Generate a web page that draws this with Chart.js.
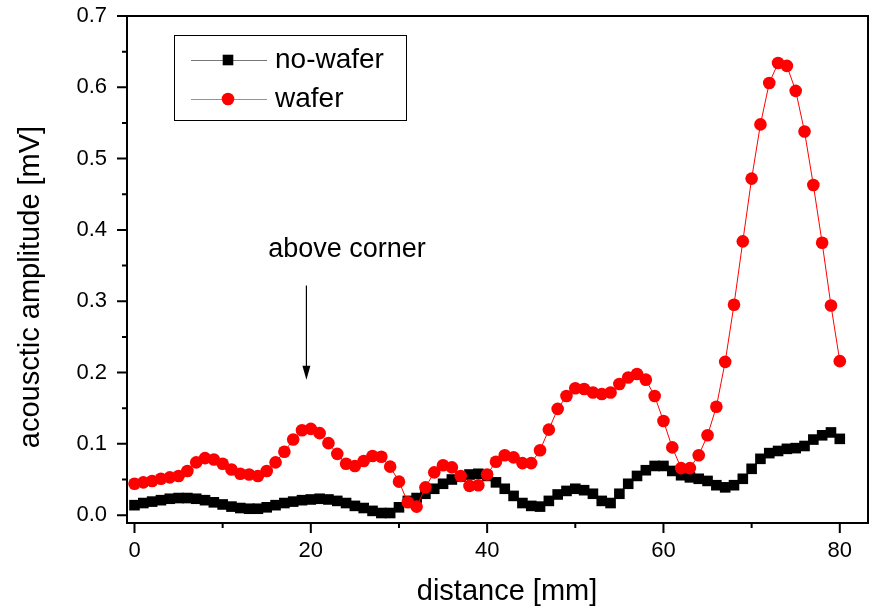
<!DOCTYPE html>
<html>
<head>
<meta charset="utf-8">
<script src="https://cdn.jsdelivr.net/npm/chart.js@4.4.1/dist/chart.umd.min.js"></script>
<style>
  body { margin: 0; background: #fff; }
  #wrap { width: 876px; height: 610px; }
</style>
</head>
<body>
<div id="wrap"><canvas id="chart" width="876" height="610"></canvas></div>
<script>
// distance along the scan, mm
const distance = [
  0, 1, 2, 3, 4, 5, 6, 7, 8, 9, 10, 11, 12, 13, 14, 15, 16, 17, 18, 19,
  20, 21, 22, 23, 24, 25, 26, 27, 28, 29, 30, 31, 32, 33, 34, 35, 36, 37, 38, 39,
  40, 41, 42, 43, 44, 45, 46, 47, 48, 49, 50, 51, 52, 53, 54, 55, 56, 57, 58, 59,
  60, 61, 62, 63, 64, 65, 66, 67, 68, 69, 70, 71, 72, 73, 74, 75, 76, 77, 78, 79, 80
];

// acoustic amplitude, mV
const noWafer = [
  0.014, 0.017, 0.019, 0.021, 0.023, 0.024, 0.024, 0.023, 0.021, 0.018,
  0.015, 0.012, 0.010, 0.009, 0.009, 0.011, 0.014, 0.017, 0.019, 0.021,
  0.022, 0.023, 0.022, 0.020, 0.017, 0.013, 0.010, 0.006, 0.003, 0.003,
  0.011, 0.020, 0.024, 0.030, 0.037, 0.044, 0.050, 0.054, 0.057, 0.058,
  0.055, 0.046, 0.037, 0.027, 0.017, 0.013, 0.012, 0.020, 0.029, 0.034,
  0.037, 0.035, 0.030, 0.020, 0.017, 0.030, 0.044, 0.055, 0.063, 0.069,
  0.069, 0.062, 0.056, 0.053, 0.051, 0.048, 0.042, 0.039, 0.042, 0.051,
  0.065, 0.079, 0.087, 0.090, 0.093, 0.094, 0.097, 0.106, 0.112, 0.116, 0.107
];

const wafer = [
  0.044, 0.046, 0.048, 0.051, 0.053, 0.055, 0.062, 0.074, 0.080, 0.078,
  0.072, 0.064, 0.058, 0.057, 0.055, 0.062, 0.074, 0.089, 0.106, 0.119,
  0.121, 0.115, 0.101, 0.086, 0.072, 0.069, 0.076, 0.083, 0.082, 0.068,
  0.047, 0.018, 0.012, 0.039, 0.060, 0.070, 0.067, 0.055, 0.041, 0.042,
  0.057, 0.075, 0.084, 0.081, 0.073, 0.073, 0.091, 0.120, 0.149, 0.167,
  0.178, 0.177, 0.172, 0.170, 0.172, 0.184, 0.193, 0.198, 0.190, 0.167,
  0.132, 0.095, 0.066, 0.066, 0.084, 0.112, 0.152, 0.215, 0.295, 0.384,
  0.472, 0.548, 0.606, 0.634, 0.630, 0.595, 0.538, 0.463, 0.382, 0.294, 0.216
];

const seriesNames = ["no-wafer", "wafer"];
const xTitle = "distance [mm]";
const yTitle = "acousctic amplitude [mV]";

const xTicks = [0, 20, 40, 60, 80];
const xMinor = [10, 30, 50, 70];
const yTicks = [0, 0.1, 0.2, 0.3, 0.4, 0.5, 0.6, 0.7];
const yMinor = [0.05, 0.15, 0.25, 0.35, 0.45, 0.55, 0.65];

// arrow note: text position and arrow (x, y from, y to) in data units
const note = { text: "above corner", x: 24.1, y: 0.372 };
const arrow = { x: 19.5, from: 0.322, to: 0.19 };

const FONT = '"Liberation Sans", Arial, sans-serif';
Chart.defaults.font.family = FONT;
Chart.defaults.color = "#000";

const toPoints = ys => distance.map((d, i) => ({ x: d, y: ys[i] }));

// frame, outward ticks, axis titles, legend box and the arrow note
const decor = {
  id: "decor",
  afterDraw(chart) {
    const { ctx, chartArea: a, scales: { x, y } } = chart;
    ctx.save();
    ctx.strokeStyle = "#000";
    ctx.lineWidth = 2;
    ctx.strokeRect(a.left, a.top, a.right - a.left, a.bottom - a.top);

    ctx.beginPath();
    xTicks.forEach(v => { const px = x.getPixelForValue(v); ctx.moveTo(px, a.bottom); ctx.lineTo(px, a.bottom + 10); });
    xMinor.forEach(v => { const px = x.getPixelForValue(v); ctx.moveTo(px, a.bottom); ctx.lineTo(px, a.bottom + 5); });
    yTicks.forEach(v => { const py = y.getPixelForValue(v); ctx.moveTo(a.left, py); ctx.lineTo(a.left - 10, py); });
    yMinor.forEach(v => { const py = y.getPixelForValue(v); ctx.moveTo(a.left, py); ctx.lineTo(a.left - 5, py); });
    ctx.stroke();

    // axis titles
    ctx.fillStyle = "#000";
    ctx.textAlign = "center";
    ctx.textBaseline = "middle";
    ctx.font = "29px " + FONT;
    ctx.fillText(xTitle, 507, 592);
    ctx.save();
    ctx.translate(31, 287);
    ctx.rotate(-Math.PI / 2);
    ctx.fillText(yTitle, 0, 0);
    ctx.restore();

    // legend
    const lx = a.left + 47, ly = a.top + 19;
    ctx.lineWidth = 1;
    ctx.strokeRect(lx + 0.5, ly + 0.5, 232, 85);
    const rows = [
      { name: seriesNames[0], color: "#000", line: "#777", style: "rect", r: 7.5, cy: ly + 25 },
      { name: seriesNames[1], color: "#f00", line: "#f66", style: "circle", r: 6.3, cy: ly + 64 }
    ];
    ctx.font = "28px " + FONT;
    ctx.textAlign = "left";
    rows.forEach(row => {
      ctx.strokeStyle = row.line;
      ctx.lineWidth = 1;
      ctx.beginPath();
      ctx.moveTo(lx + 17, row.cy + 0.5);
      ctx.lineTo(lx + 93, row.cy + 0.5);
      ctx.stroke();
      ctx.fillStyle = row.color;
      Chart.helpers.drawPoint(ctx, { pointStyle: row.style, radius: row.r, borderWidth: 0 }, lx + 54, row.cy);
      ctx.fillStyle = "#000";
      ctx.fillText(row.name, lx + 101, row.cy);
    });

    // note + arrow
    ctx.font = "27px " + FONT;
    ctx.textAlign = "center";
    ctx.fillText(note.text, x.getPixelForValue(note.x), y.getPixelForValue(note.y));
    const ax = x.getPixelForValue(arrow.x);
    const y0 = y.getPixelForValue(arrow.from), y1 = y.getPixelForValue(arrow.to);
    ctx.strokeStyle = "#000";
    ctx.lineWidth = 1.2;
    ctx.beginPath();
    ctx.moveTo(ax, y0);
    ctx.lineTo(ax, y1 - 10);
    ctx.stroke();
    ctx.beginPath();
    ctx.moveTo(ax - 4, y1 - 14);
    ctx.lineTo(ax + 4, y1 - 14);
    ctx.lineTo(ax, y1);
    ctx.closePath();
    ctx.fill();
    ctx.restore();
  }
};

// tick marks are drawn by the plugin; the hidden grid ticks only space the labels
const hiddenTicks = len => ({ display: true, drawOnChartArea: false, tickLength: len, tickColor: "rgba(0,0,0,0)" });

new Chart(document.getElementById("chart"), {
  type: "line",
  data: {
    datasets: [
      {
        label: seriesNames[0],
        data: toPoints(noWafer),
        borderColor: "#000",
        backgroundColor: "#000",
        borderWidth: 1,
        pointStyle: "rect",
        pointRadius: 7.5,
        pointBorderWidth: 0,
        order: 2
      },
      {
        label: seriesNames[1],
        data: toPoints(wafer),
        borderColor: "#f00",
        backgroundColor: "#f00",
        borderWidth: 1,
        pointStyle: "circle",
        pointRadius: 6.3,
        pointBorderWidth: 0,
        order: 1
      }
    ]
  },
  options: {
    responsive: false,
    animation: false,
    layout: { padding: { top: 16, right: 8, left: 0, bottom: 0 } },
    plugins: { legend: { display: false }, tooltip: { enabled: false } },
    scales: {
      x: {
        type: "linear",
        min: -0.85,
        max: 83.2,
        grid: hiddenTicks(15),
        border: { display: false },
        afterFit: s => { s.height = 87; },
        afterBuildTicks: s => { s.ticks = xTicks.map(v => ({ value: v })); },
        ticks: { padding: 0, font: { size: 22 }, callback: v => String(v) },
        title: { display: false }
      },
      y: {
        type: "linear",
        min: -0.011,
        max: 0.7,
        grid: hiddenTicks(20),
        border: { display: false },
        afterFit: s => { s.width = 127; },
        afterBuildTicks: s => { s.ticks = yTicks.map(v => ({ value: v })); },
        ticks: { padding: 0, font: { size: 22 }, callback: v => v.toFixed(1) },
        title: { display: false }
      }
    }
  },
  plugins: [decor]
});
</script>
</body>
</html>
